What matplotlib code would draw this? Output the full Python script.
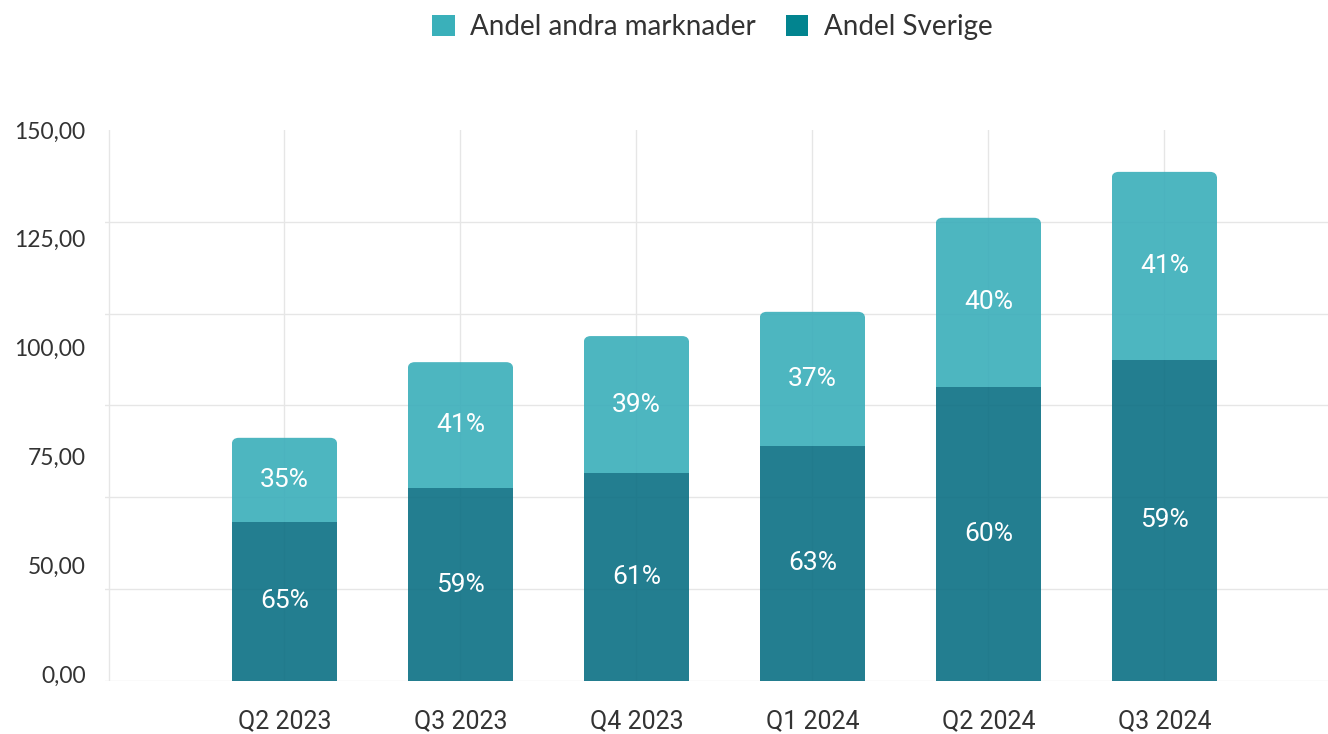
import numpy as np
import matplotlib
matplotlib.use("Agg")
import matplotlib.pyplot as plt
from matplotlib.patches import FancyBboxPatch, Rectangle, Patch

quarters = ["Q2 2023", "Q3 2023", "Q4 2023", "Q1 2024", "Q2 2024", "Q3 2024"]
sverige = [43.3, 52.5, 56.6, 64.0, 80.0, 87.4]
andra = [22.9, 34.3, 37.3, 36.5, 46.1, 51.2]
pct_sverige = ["65%", "59%", "61%", "63%", "60%", "59%"]
pct_andra = ["35%", "41%", "39%", "37%", "40%", "41%"]
ytick_labels = ["0,00", "50,00", "75,00", "100,00", "125,00", "150,00"]

LIGHT = "#3AAEBA"
DARK = "#0B7084"
LIGHT_LEG = "#3AB0BA"
DARK_LEG = "#02848F"
GRID = "#e6e6e6"
TEXT = "#333333"

W, H = 1328, 734
fig = plt.figure(figsize=(W / 100, H / 100), dpi=100)
ax = fig.add_axes([105 / W, 53 / H, (W - 105) / W, 551 / H])

x = np.arange(len(quarters))
ax.set_xlim(-1.02, 5.93)
ax.set_ylim(0, 150)

bars_dark = ax.bar(x, sverige, width=0.6, color=DARK, alpha=0.9, zorder=3, linewidth=0)
bars_light = ax.bar(x, andra, bottom=sverige, width=0.6, color=LIGHT, alpha=0.9, zorder=3, linewidth=0)

# rounded top corners on the upper segment
fig.canvas.draw()
p0 = ax.transData.transform((0, 0))
p1 = ax.transData.transform((1, 1))
aspect = (p1[0] - p0[0]) / (p1[1] - p0[1])
r = 7 / (p1[0] - p0[0])
for b in bars_light:
    bx, by, bw, bh = b.get_x(), b.get_y(), b.get_width(), b.get_height()
    b.set_visible(False)
    rb = FancyBboxPatch((bx, by - 5), bw, bh + 5, boxstyle=f"round,pad=0,rounding_size={r}",
                        mutation_aspect=aspect, facecolor=LIGHT, alpha=0.9, edgecolor="none", zorder=3)
    ax.add_patch(rb)
    clip = Rectangle((bx, by), bw, 200, transform=ax.transData)
    rb.set_clip_path(clip)

for i in range(len(quarters)):
    ax.text(x[i], sverige[i] / 2, pct_sverige[i], ha="center", va="center", color="white",
            fontsize=19, family="Roboto", zorder=5)
    ax.text(x[i], sverige[i] + andra[i] / 2, pct_andra[i], ha="center", va="center", color="white",
            fontsize=19, family="Roboto", zorder=5)

ax.set_yticks(np.arange(0, 150, 25))
ax.set_yticklabels([])
ax.set_xticks(np.arange(-1, len(quarters)))
ax.set_xticklabels([""] + quarters, fontsize=18, color=TEXT, family="Roboto")
ax.tick_params(axis="x", length=0, pad=20)
ax.tick_params(axis="y", length=0)
ax.grid(True, color=GRID, linewidth=1, zorder=0)
ax.set_axisbelow(True)
for s in ax.spines.values():
    s.set_visible(False)

# y labels (evenly spaced as in the source)
ax2 = ax.twinx()
ax2.yaxis.tick_left()
ax2.set_ylim(0, 1)
ax2.set_yticks(np.linspace(0.013, 1.02, len(ytick_labels)))
ax2.set_yticklabels(ytick_labels, fontsize=16.5, color=TEXT, family="Lato")
ax2.tick_params(axis="y", length=0, pad=14)
for s in ax2.spines.values():
    s.set_visible(False)

handles = [Patch(facecolor=LIGHT_LEG, edgecolor="none"), Patch(facecolor=DARK_LEG, edgecolor="none")]
fig.legend(handles, ["Andel andra marknader", "Andel Sverige"], loc="center", bbox_to_anchor=(0.5365, 0.963),
           ncol=2, frameon=False, prop={"family": "Lato", "size": 20}, labelcolor=TEXT,
           handlelength=0.8, handleheight=0.8, handletextpad=0.55, columnspacing=1.1)

fig.savefig("out.png", dpi=100, facecolor="white")
